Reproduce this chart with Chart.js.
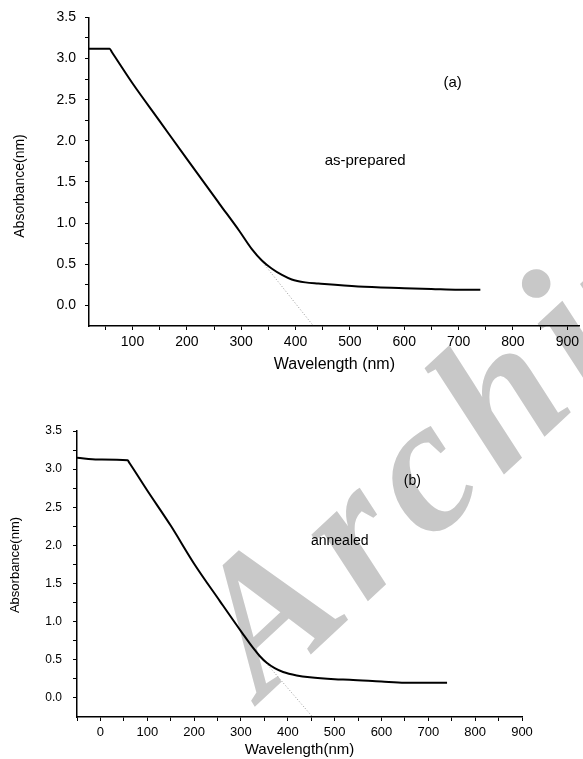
<!DOCTYPE html>
<html>
<head>
<meta charset="utf-8">
<script src="https://cdn.jsdelivr.net/npm/chart.js@4.4.1/dist/chart.umd.min.js"></script>
<style>
  html, body { margin: 0; padding: 0; background: #fff; overflow: hidden; }
  #page { position: relative; width: 583px; height: 759px; }
  #page canvas { position: absolute; left: 0; }
  #mark {
    position: absolute;
    left: 262px;
    top: 541px;
    font: italic bold 190px "Liberation Serif", "DejaVu Serif", serif;
    line-height: 1;
    letter-spacing: 14px;
    color: #c8c8c8;
    white-space: nowrap;
    transform-origin: 0 159px;
    transform: rotate(-43deg);
  }
</style>
</head>
<body>
<div id="page">
  <div id="mark">Archive</div>
  <canvas id="chartA" width="583" height="380" style="top:0"></canvas>
  <canvas id="chartB" width="583" height="379" style="top:380px"></canvas>
</div>
<script>
// (a) as-prepared
const wavelengthA = [20, 58, 62, 100, 150, 200, 260, 296, 320, 338, 356, 375, 393, 418, 442, 515, 600, 650, 700, 740];
const absorbanceA = [3.12, 3.12, 3.08, 2.70, 2.24, 1.78, 1.235, 0.91, 0.68, 0.545, 0.448, 0.37, 0.315, 0.28, 0.266, 0.23, 0.21, 0.20, 0.19, 0.19];
const tangentXA = [340, 433];
const tangentYA = [0.52, -0.25];

// (b) annealed
const wavelengthB = [-50, -5, 58, 62, 100, 150, 200, 255, 304, 326, 340, 355, 372, 390, 419, 447, 500, 532, 600, 650, 700, 740];
const absorbanceB = [3.15, 3.125, 3.115, 3.08, 2.72, 2.26, 1.76, 1.27, 0.84, 0.655, 0.55, 0.46, 0.39, 0.34, 0.295, 0.27, 0.245, 0.238, 0.215, 0.20, 0.20, 0.20];
const tangentXB = [345, 453];
const tangentYB = [0.52, -0.25];

// axis ticks
const xTicksA = [50, 100, 150, 200, 250, 300, 350, 400, 450, 500, 550, 600, 650, 700, 750, 800, 850, 900];
const xTicksB = [-50, 0, 50, 100, 150, 200, 250, 300, 350, 400, 450, 500, 550, 600, 650, 700, 750, 800, 850, 900];
const yTicks = [0, 0.25, 0.5, 0.75, 1, 1.25, 1.5, 1.75, 2, 2.25, 2.5, 2.75, 3, 3.25, 3.5];

function toPoints(xs, ys) {
  return xs.map((x, i) => ({ x: x, y: ys[i] }));
}

// text labels placed in data coordinates, plus the rotated y title
const labelPlugin = {
  id: "labels",
  afterDatasetsDraw(chart, args, opts) {
    const ctx = chart.ctx;
    ctx.save();
    ctx.fillStyle = "#000";
    ctx.textAlign = "center";
    ctx.textBaseline = "middle";
    opts.items.forEach((it) => {
      ctx.font = it.size + "px 'Liberation Sans', Arial, sans-serif";
      ctx.fillText(it.text, chart.scales.x.getPixelForValue(it.x), chart.scales.y.getPixelForValue(it.y));
    });
    const t = opts.yTitle;
    ctx.font = t.size + "px 'Liberation Sans', Arial, sans-serif";
    ctx.translate(t.x, t.y);
    ctx.rotate(-Math.PI / 2);
    ctx.fillText(t.text, 0, 0);
    ctx.restore();
  },
};

function makeChart(id, cfg) {
  const ctx = document.getElementById(id).getContext("2d");
  return new Chart(ctx, {
    type: "scatter",
    data: {
      datasets: [
        {
          data: toPoints(cfg.xs, cfg.ys),
          showLine: true,
          borderColor: "#000",
          borderWidth: 2,
          pointRadius: 0,
          cubicInterpolationMode: "monotone",
          borderJoinStyle: "round",
        },
        {
          data: toPoints(cfg.tx, cfg.ty),
          showLine: true,
          borderColor: "#9a9a9a",
          borderWidth: 1,
          borderDash: [1, 2],
          pointRadius: 0,
        },
      ],
    },
    options: {
      responsive: false,
      animation: false,
      layout: { padding: { top: cfg.top, left: 0, right: cfg.right, bottom: 0 } },
      plugins: {
        legend: { display: false },
        tooltip: { enabled: false },
        labels: { items: cfg.labels, yTitle: cfg.yTitle },
      },
      scales: {
        x: {
          type: "linear",
          min: cfg.xmin,
          max: cfg.xmax,
          afterBuildTicks: (s) => { s.ticks = cfg.xticks.map((v) => ({ value: v })); },
          afterFit: (s) => { s.height = cfg.xh; },
          ticks: {
            autoSkip: false,
            maxRotation: 0,
            padding: 4,
            color: "#000",
            font: { family: "'Liberation Sans', Arial", size: cfg.xfont },
            callback: (v) => (v % 100 === 0 ? String(v) : ""),
          },
          grid: { drawOnChartArea: false, tickLength: 4, color: "#000", lineWidth: 1 },
          border: { color: "#000", width: 1.5 },
          title: {
            display: true,
            text: cfg.xtitle,
            color: "#000",
            font: { family: "'Liberation Sans', Arial", size: cfg.xtitleSize },
            padding: { top: 0, bottom: cfg.xtitlePad },
          },
        },
        y: {
          type: "linear",
          min: -0.25,
          max: 3.5,
          afterBuildTicks: (s) => { s.ticks = yTicks.map((v) => ({ value: v })); },
          afterFit: (s) => { s.width = cfg.yw; },
          ticks: {
            autoSkip: false,
            padding: cfg.ypad,
            color: "#000",
            font: { family: "'Liberation Sans', Arial", size: cfg.yfont },
            callback: (v) => (Math.abs(v * 2 - Math.round(v * 2)) < 1e-6 ? v.toFixed(1) : ""),
          },
          grid: { drawOnChartArea: false, tickLength: 4, color: "#000", lineWidth: 1 },
          border: { color: "#000", width: 1.5 },
        },
      },
    },
    plugins: [labelPlugin],
  });
}

makeChart("chartA", {
  xs: wavelengthA, ys: absorbanceA, tx: tangentXA, ty: tangentYA,
  xmin: 20, xmax: 923, xticks: xTicksA,
  top: 17, right: 0, xh: 54, yw: 89,
  xfont: 14, yfont: 14, ypad: 9,
  xtitle: "Wavelength (nm)", xtitleSize: 16, xtitlePad: 6,
  yTitle: { text: "Absorbance(nm)", x: 20, y: 186, size: 14 },
  labels: [
    { text: "(a)", x: 689, y: 2.71, size: 15 },
    { text: "as-prepared", x: 528, y: 1.76, size: 15 },
  ],
});

makeChart("chartB", {
  xs: wavelengthB, ys: absorbanceB, tx: tangentXB, ty: tangentYB,
  xmin: -50, xmax: 900, xticks: xTicksB,
  top: 51, right: 61, xh: 42, yw: 77,
  xfont: 13, yfont: 12, ypad: 11,
  xtitle: "Wavelength(nm)", xtitleSize: 15, xtitlePad: 0,
  yTitle: { text: "Absorbance(nm)", x: 15, y: 185, size: 13 },
  labels: [
    { text: "(b)", x: 666, y: 2.84, size: 14 },
    { text: "annealed", x: 511, y: 2.06, size: 14 },
  ],
});
</script>
</body>
</html>
